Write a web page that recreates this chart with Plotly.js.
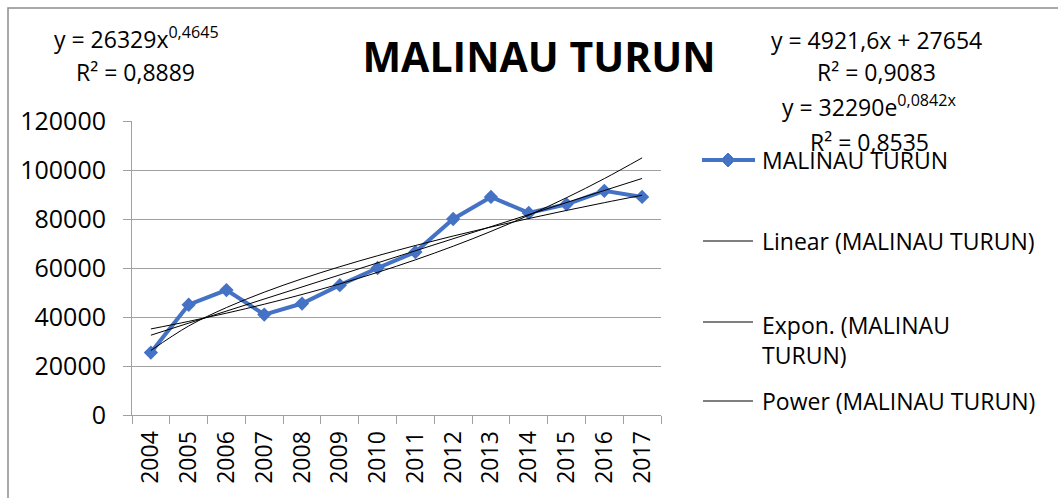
<!DOCTYPE html>
<html>
<head>
<meta charset="utf-8">
<script src="https://cdn.plot.ly/plotly-3.0.1.min.js"></script>
<style>html,body{margin:0;padding:0;background:#fff;}#chart{width:1058px;height:498px;}</style>
</head>
<body>
<div id="chart"></div>
<script>
// ---- data ----
const years = ['2004','2005','2006','2007','2008','2009','2010','2011','2012','2013','2014','2015','2016','2017'];
const malinauTurun = [25500, 45000, 51000, 41000, 45500, 53000, 60000, 66500, 80000, 89000, 82500, 86000, 91500, 89000];
// trendline equations shown on the chart (x = 1..n)
const linearCoef = [4921.6, 27654];   // y = a*x + b
const exponCoef = [32290, 0.0842];    // y = a*e^(b*x)
const powerCoef = [26329, 0.4645];    // y = a*x^b
const seriesName = 'MALINAU TURUN';
const legendNames = ['MALINAU TURUN', 'Linear (MALINAU TURUN)', 'Expon. (MALINAU<br>TURUN)', 'Power (MALINAU TURUN)'];
const eqLinear = ['y = 4921,6x + 27654', 'R² = 0,9083'];
const eqExpon = ['y = 32290e<sup>0,0842x</sup>', 'R² = 0,8535'];
const eqPower = ['y = 26329x<sup>0,4645</sup>', 'R² = 0,8889'];

const idx = years.map((_, i) => i + 1);
const linearY = idx.map(x => linearCoef[0] * x + linearCoef[1]);
const exponY = idx.map(x => exponCoef[0] * Math.exp(exponCoef[1] * x));
const powerY = idx.map(x => powerCoef[0] * Math.pow(x, powerCoef[1]));

// ---- geometry helpers (plot area in pixels) ----
const L = 132, R = 661, T = 121, B = 415;
const px = p => (p - L) / (R - L);
const py = p => (B - p) / (B - T);

const FONT = 'Open Sans, Noto Sans, sans-serif';
const BLUE = '#4472C4';
const GRAY = '#a0a0a0';

const traces = [
  {x: years, y: malinauTurun, type: 'scatter', mode: 'lines+markers', name: seriesName,
   line: {color: BLUE, width: 4}, marker: {symbol: 'diamond', size: 11, color: BLUE}, showlegend: false},
  {x: years, y: linearY, type: 'scatter', mode: 'lines', name: 'Linear', line: {color: '#000', width: 1}, showlegend: false},
  {x: years, y: exponY, type: 'scatter', mode: 'lines', name: 'Expon.', line: {color: '#000', width: 1, shape: 'spline'}, showlegend: false},
  {x: years, y: powerY, type: 'scatter', mode: 'lines', name: 'Power', line: {color: '#000', width: 1, shape: 'spline'}, showlegend: false}
];

function ann(text, xp, yp, xanchor, size) {
  return {text: text, x: px(xp), y: py(yp), xref: 'paper', yref: 'paper', xanchor: xanchor || 'center', yanchor: 'middle',
    showarrow: false, font: {family: FONT, size: size || 23, color: '#000'}, align: 'left'};
}

const annotations = [
  ann(eqPower[0], 136, 38), ann(eqPower[1], 135, 72),
  ann(eqLinear[0], 876, 40), ann(eqLinear[1], 876, 72),
  ann(eqExpon[0], 869, 106), ann(eqExpon[1], 869, 142),
  ann(legendNames[0], 760, 160, 'left'),
  ann(legendNames[1], 760, 241, 'left'),
  {text: legendNames[2], x: px(760), y: py(307), xref: 'paper', yref: 'paper', xanchor: 'left', yanchor: 'top',
   showarrow: false, font: {family: FONT, size: 23, color: '#000'}, align: 'left'},
  ann(legendNames[3], 760, 401, 'left')
];

function hline(x0, x1, y, color, w) {
  return {type: 'line', xref: 'paper', yref: 'paper', x0: px(x0), x1: px(x1), y0: py(y), y1: py(y), line: {color: color, width: w}};
}
const dcx = 728, dcy = 160, dr = 7;
const diamondPath = 'M ' + px(dcx) + ' ' + py(dcy - dr) + ' L ' + px(dcx + dr) + ' ' + py(dcy) + ' L ' + px(dcx) + ' ' + py(dcy + dr) + ' L ' + px(dcx - dr) + ' ' + py(dcy) + ' Z';

const shapes = [
  {type: 'rect', xref: 'paper', yref: 'paper', x0: px(8), x1: px(1075), y0: py(515), y1: py(8), line: {color: '#8c8c8c', width: 1.5}},
  hline(702, 755, 160, BLUE, 4),
  {type: 'path', xref: 'paper', yref: 'paper', path: diamondPath, fillcolor: BLUE, line: {color: BLUE, width: 1}},
  hline(703, 753, 241, '#000', 1),
  hline(703, 753, 322, '#000', 1),
  hline(703, 753, 401, '#000', 1)
];

const layout = {
  width: 1058, height: 498, autosize: false,
  margin: {l: L, r: 1058 - R, t: T, b: 498 - B, pad: 0},
  paper_bgcolor: '#fff', plot_bgcolor: '#fff',
  font: {family: FONT, color: '#000'},
  title: {text: '<b>MALINAU TURUN</b>', x: 539 / 1058, xanchor: 'center', xref: 'container',
          y: 1 - 58 / 498, yanchor: 'middle', yref: 'container', font: {family: FONT, size: 41, color: '#000'}},
  showlegend: false,
  xaxis: {type: 'category', range: [-0.5, years.length - 0.5], autorange: false, tickson: 'boundaries', ticks: 'outside', ticklen: 8, tickcolor: GRAY, tickwidth: 1,
          showline: true, linecolor: GRAY, linewidth: 1, showgrid: false, tickangle: -90,
          tickfont: {family: FONT, size: 23, color: '#000'}, ticklabelstandoff: 6, fixedrange: true},
  yaxis: {range: [0, 120000], autorange: false, dtick: 20000, tick0: 0, tickformat: 'd', ticks: 'outside', ticklen: 8, tickcolor: GRAY, tickwidth: 1,
          showline: true, linecolor: GRAY, linewidth: 1, showgrid: true, gridcolor: GRAY, gridwidth: 1, zeroline: false,
          tickfont: {family: FONT, size: 25, color: '#000'}, ticklabelstandoff: 12, fixedrange: true},
  annotations: annotations,
  shapes: shapes
};

Plotly.newPlot('chart', traces, layout, {displayModeBar: false, staticPlot: true});
</script>
</body>
</html>
